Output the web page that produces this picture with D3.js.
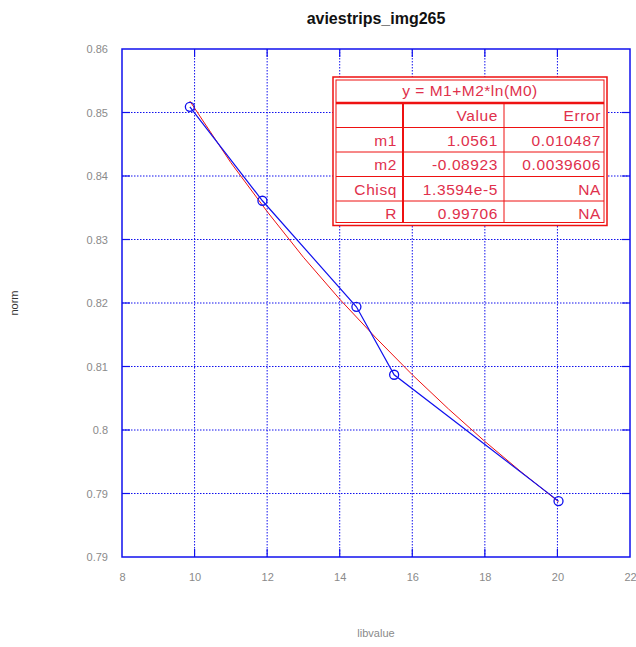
<!DOCTYPE html>
<html>
<head>
<meta charset="utf-8">
<script src="https://cdn.jsdelivr.net/npm/d3@7"></script>
<style>
  body { margin: 0; background: #fff; }
  text { font-family: "Liberation Sans", Arial, sans-serif; }
</style>
</head>
<body>
<div id="graf"></div>
<script>
//// DATOS
titulo = 'aviestrips_img265'
xLabel = 'libvalue'
yLabel = 'norm'

xVals = [9.87, 11.87, 14.46, 15.5, 20.03]
yVals = [0.8509, 0.8361, 0.8194, 0.8087, 0.7888]

// curva ajustada (roja)
fitX = [9.87, 11, 12, 13, 14, 15, 16, 17, 18, 19, 20.03]
fitY = [0.8518, 0.8421, 0.8344, 0.8272, 0.8206, 0.8145, 0.8087, 0.8033, 0.7982, 0.7934, 0.7887]

xTicks = [8, 10, 12, 14, 16, 18, 20, 22]
yTicks = [0.86, 0.85, 0.84, 0.83, 0.82, 0.81, 0.80, 0.79, 0.78]
yTickLabels = ['0.86', '0.85', '0.84', '0.83', '0.82', '0.81', '0.8', '0.79', '0.79']

formula = 'y = M1+M2*ln(M0)'
tablaCols = ['', 'Value', 'Error']
tablaFilas = [
  ['m1', '1.0561', '0.010487'],
  ['m2', '-0.08923', '0.0039606'],
  ['Chisq', '1.3594e-5', 'NA'],
  ['R', '0.99706', 'NA']
]

//// ESPACIO
ancho_total = 636
alto_total = 647
margins = { top: 49, left: 122, right: 6, bottom: 90 }
ancho = ancho_total - margins.left - margins.right
alto = alto_total - margins.top - margins.bottom

azul = '#1010ee'
rojo = '#ee1111'
textoRojo = '#e0304c'
gris = '#8a8a8a'

svg = d3.select('#graf').append('svg')
  .attr('width', ancho_total)
  .attr('height', alto_total)

g = svg.append('g')
  .attr('transform', `translate(${margins.left}, ${margins.top})`)

x = d3.scaleLinear().domain([8, 22]).range([0, ancho])
y = d3.scaleLinear().domain([0.78, 0.86]).range([alto, 0])

//// REJILLA
g.selectAll('.gx').data(xTicks.slice(1, -1)).enter().append('line')
  .attr('x1', d => x(d)).attr('x2', d => x(d))
  .attr('y1', 0).attr('y2', alto)
  .attr('stroke', azul).attr('stroke-width', 1)
  .attr('stroke-dasharray', '1.5,1.5')
g.selectAll('.gy').data(yTicks.slice(1, -1)).enter().append('line')
  .attr('y1', d => y(d)).attr('y2', d => y(d))
  .attr('x1', 0).attr('x2', ancho)
  .attr('stroke', azul).attr('stroke-width', 1)
  .attr('stroke-dasharray', '1.5,1.5')

// marcas cortas sólidas
xTicks.slice(1, -1).forEach(t => {
  g.append('line').attr('x1', x(t)).attr('x2', x(t)).attr('y1', alto).attr('y2', alto - 8)
    .attr('stroke', azul).attr('stroke-width', 1.2)
  g.append('line').attr('x1', x(t)).attr('x2', x(t)).attr('y1', 0).attr('y2', 8)
    .attr('stroke', azul).attr('stroke-width', 1.2)
})
yTicks.slice(1, -1).forEach(t => {
  g.append('line').attr('y1', y(t)).attr('y2', y(t)).attr('x1', 0).attr('x2', 8)
    .attr('stroke', azul).attr('stroke-width', 1.2)
  g.append('line').attr('y1', y(t)).attr('y2', y(t)).attr('x1', ancho).attr('x2', ancho - 8)
    .attr('stroke', azul).attr('stroke-width', 1.2)
})

// borde
g.append('rect')
  .attr('width', ancho).attr('height', alto)
  .attr('fill', 'none').attr('stroke', azul).attr('stroke-width', 1.5)

//// EJES (solo etiquetas)
xAxis = g.append('g').attr('transform', `translate(0, ${alto})`)
  .call(d3.axisBottom(x).tickValues(xTicks).tickSize(0).tickPadding(16).tickFormat(d3.format('d')))
yAxis = g.append('g')
  .call(d3.axisLeft(y).tickValues(yTicks).tickSize(0).tickPadding(14)
    .tickFormat((d, i) => yTickLabels[i]))
;[xAxis, yAxis].forEach(a => {
  a.select('.domain').remove()
  a.selectAll('text').attr('fill', gris).attr('font-size', 11)
    .attr('font-family', '"Liberation Sans", Arial, sans-serif')
})

//// TÍTULOS
svg.append('text')
  .attr('x', margins.left + ancho / 2).attr('y', 24)
  .attr('text-anchor', 'middle')
  .attr('font-size', 16).attr('font-weight', 'bold')
  .attr('fill', '#111')
  .text(titulo)
svg.append('text')
  .attr('x', margins.left + ancho / 2).attr('y', 637)
  .attr('text-anchor', 'middle')
  .attr('font-size', 11).attr('fill', gris)
  .text(xLabel)
svg.append('text')
  .attr('transform', `translate(18, ${margins.top + alto / 2}) rotate(-90)`)
  .attr('text-anchor', 'middle')
  .attr('font-size', 11).attr('fill', '#333')
  .text(yLabel)

//// LÍNEAS
lineGen = d3.line().x(d => x(d[0])).y(d => y(d[1]))

g.append('path')
  .attr('d', lineGen(fitX.map((v, i) => [v, fitY[i]])))
  .attr('fill', 'none').attr('stroke', rojo).attr('stroke-width', 1)

g.append('path')
  .attr('d', lineGen(xVals.map((v, i) => [v, yVals[i]])))
  .attr('fill', 'none').attr('stroke', azul).attr('stroke-width', 1.2)

g.selectAll('.pt').data(xVals).enter().append('circle')
  .attr('cx', d => x(d)).attr('cy', (d, i) => y(yVals[i]))
  .attr('r', 4.5)
  .attr('fill', 'none').attr('stroke', azul).attr('stroke-width', 1.3)

//// TABLA
tabla = svg.append('g').attr('transform', 'translate(333, 77)')
colX = [0, 70, 171, 274]
filaH = 24.5
cabH = 26
tAncho = colX[3]
tAlto = cabH + filaH * (tablaFilas.length + 1)

tabla.append('rect').attr('width', tAncho).attr('height', tAlto)
  .attr('fill', '#fff').attr('stroke', rojo).attr('stroke-width', 1.5)
tabla.append('rect').attr('x', 3).attr('y', 3)
  .attr('width', tAncho - 6).attr('height', tAlto - 6)
  .attr('fill', 'none').attr('stroke', rojo).attr('stroke-width', 1)

// línea bajo la cabecera
tabla.append('line').attr('x1', 3).attr('x2', tAncho - 3)
  .attr('y1', cabH).attr('y2', cabH)
  .attr('stroke', rojo).attr('stroke-width', 2.5)

// filas
d3.range(1, tablaFilas.length + 1).forEach(i => {
  tabla.append('line').attr('x1', 3).attr('x2', tAncho - 3)
    .attr('y1', cabH + filaH * i).attr('y2', cabH + filaH * i)
    .attr('stroke', rojo).attr('stroke-width', 1)
})
// columnas
;[colX[1], colX[2]].forEach(cx => {
  tabla.append('line').attr('x1', cx).attr('x2', cx)
    .attr('y1', cabH).attr('y2', tAlto - 3)
    .attr('stroke', rojo).attr('stroke-width', cx === colX[1] ? 2 : 1)
})

tabla.append('text')
  .attr('x', tAncho / 2).attr('y', cabH / 2 + 6)
  .attr('text-anchor', 'middle')
  .attr('font-size', 15.5).attr('letter-spacing', 0.5).attr('fill', textoRojo)
  .text(formula)

;[tablaCols].concat(tablaFilas).forEach((fila, r) => {
  fila.forEach((celda, c) => {
    tabla.append('text')
      .attr('x', colX[c + 1] - 6)
      .attr('y', cabH + filaH * r + filaH / 2 + 6)
      .attr('text-anchor', 'end')
      .attr('font-size', 15.5).attr('letter-spacing', 0.6).attr('fill', textoRojo)
      .text(celda)
  })
})
</script>
</body>
</html>
